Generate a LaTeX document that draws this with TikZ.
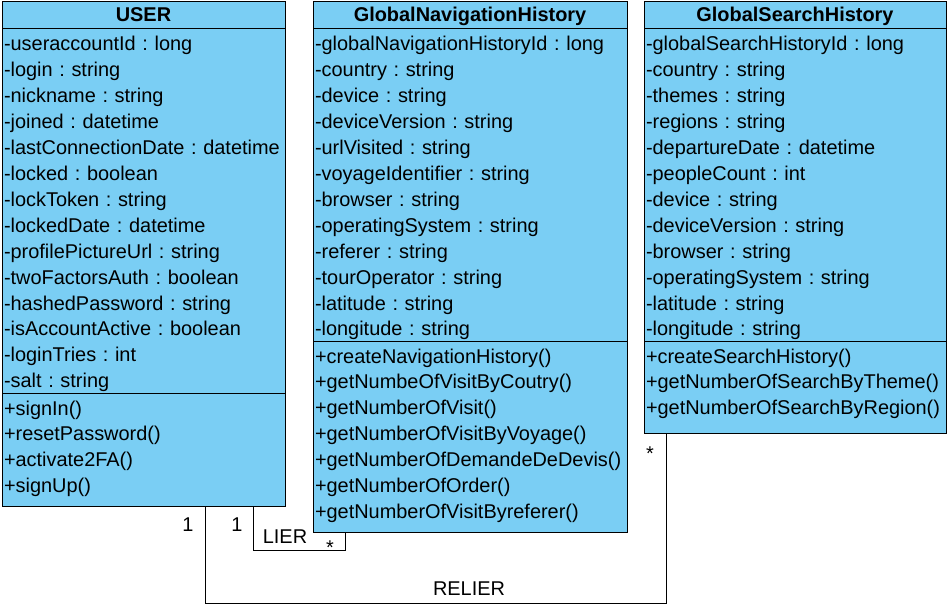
\documentclass[tikz,border=0pt]{standalone}
\usepackage{fontspec}
\setmainfont{Liberation Sans}
\frenchspacing
\hyphenpenalty=10000
\definecolor{classfill}{RGB}{122,206,244}

\begin{document}
\begin{tikzpicture}[
    x=1bp, y=1bp,
    head/.style={rectangle, draw, fill=classfill, line width=1bp, anchor=north west, inner sep=0pt, outer sep=0pt, text height=20bp, text depth=7bp, font=\fontsize{20}{26}\selectfont\bfseries},
    part/.style={rectangle, draw, fill=classfill, line width=1bp, anchor=north west, inner xsep=2bp, inner ysep=0pt, outer sep=0pt, align=left, text height=22bp, font=\fontsize{20}{26}\selectfont},
    link/.style={draw, line width=1bp},
    mult/.style={anchor=base, inner sep=0pt, font=\fontsize{20}{24}\selectfont}
]
\useasboundingbox (0,0) rectangle (950,-607);

% USER
\node[head, minimum width=283bp] (user) at (2,-2) {USER};
\node[part, text width=279bp, text depth=342bp] (userattr) at (user.south west) {-useraccountId : long\\-login : string\\-nickname : string\\-joined : datetime\\-lastConnectionDate : datetime\\-locked : boolean\\-lockToken : string\\-lockedDate : datetime\\-profilePictureUrl : string\\-twoFactorsAuth : boolean\\-hashedPassword : string\\-isAccountActive : boolean\\-loginTries : int\\-salt : string};
\node[part, text width=279bp, text depth=91bp] (usermeth) at (userattr.south west) {+signIn()\\+resetPassword()\\+activate2FA()\\+signUp()};

% GlobalNavigationHistory
\node[head, minimum width=314bp] (nav) at (313,-2) {GlobalNavigationHistory};
\node[part, text width=310bp, text depth=290bp] (navattr) at (nav.south west) {-globalNavigationHistoryId : long\\-country : string\\-device : string\\-deviceVersion : string\\-urlVisited : string\\-voyageIdentifier : string\\-browser : string\\-operatingSystem : string\\-referer : string\\-tourOperator : string\\-latitude : string\\-longitude : string};
\node[part, text width=310bp, text depth=169bp] (navmeth) at (navattr.south west) {+createNavigationHistory()\\+getNumbeOfVisitByCoutry()\\+getNumberOfVisit()\\+getNumberOfVisitByVoyage()\\+getNumberOfDemandeDeDevis()\\+getNumberOfOrder()\\+getNumberOfVisitByreferer()};

% GlobalSearchHistory
\node[head, minimum width=302bp] (search) at (644,-2) {GlobalSearchHistory};
\node[part, text width=298bp, text depth=290bp] (searchattr) at (search.south west) {-globalSearchHistoryId : long\\-country : string\\-themes : string\\-regions : string\\-departureDate : datetime\\-peopleCount : int\\-device : string\\-deviceVersion : string\\-browser : string\\-operatingSystem : string\\-latitude : string\\-longitude : string};
\node[part, text width=298bp, text depth=70bp] (searchmeth) at (searchattr.south west) {+createSearchHistory()\\+getNumberOfSearchByTheme()\\+getNumberOfSearchByRegion()};

% Associations
\draw[link] ([xshift=251bp]usermeth.south west) -- ++(0,-44) -| ([xshift=32bp]navmeth.south west);
\draw[link] ([xshift=203bp]usermeth.south west) -- ++(0,-97) -| ([xshift=22bp]searchmeth.south west);

% Labels
\node[mult] (lierone) at (237,-531) {1};
\node[mult] (liername) at (285,-543) {LIER};
\node[mult] (lierstar) at (330,-554) {*};
\node[mult] (relierone) at (188,-531) {1};
\node[mult] (reliername) at (469,-595) {RELIER};
\node[mult] (relierstar) at (650,-460) {*};

\end{tikzpicture}
\end{document}
